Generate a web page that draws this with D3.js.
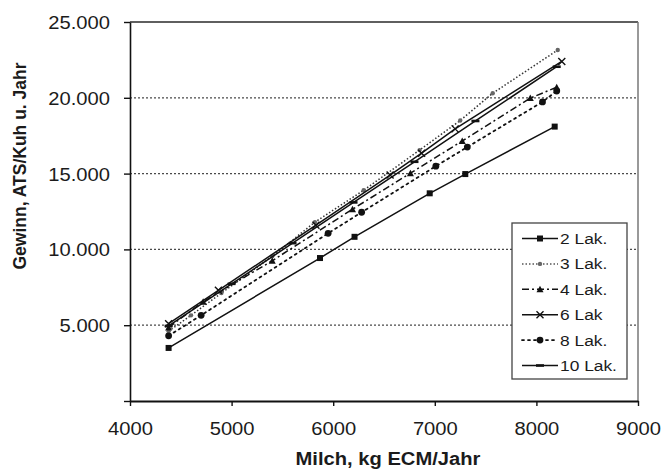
<!DOCTYPE html>
<html lang="de">
<head>
  <meta charset="UTF-8">
  <title>Gewinn je Kuh</title>
  <style>
    body { margin: 0; background: #fff; }
    svg text { font-family: 'Liberation Sans', Arial, sans-serif; fill: #1b1b1b; }
  </style>
</head>
<body>
  <svg id="svg" width="665" height="470"></svg>

  <script src="https://d3js.org/d3.v7.min.js"></script>
  <script>
    // values (kg ECM / year, ATS per cow and year)
    const milk2 = [4380, 5870, 6210, 6950, 7300, 8180]
    const gain2 = [3500, 9430, 10830, 13700, 14970, 18100]

    const milk3 = [4380, 4600, 4900, 5400, 5820, 6300, 6850, 7250, 7570, 8210]
    const gain3 = [4600, 5650, 7120, 9540, 11800, 13900, 16550, 18500, 20300, 23150]

    const milk4 = [4380, 4720, 5400, 6190, 6760, 7270, 7940, 8200]
    const gain4 = [4850, 6550, 9250, 12650, 15030, 17150, 19980, 20700]

    const milk6 = [4380, 4870, 5830, 6560, 6870, 7200, 8250]
    const gain6 = [5100, 7300, 11600, 14900, 16350, 17950, 22400]

    const milk8 = [4380, 4700, 5950, 6280, 7010, 7320, 8060, 8200]
    const gain8 = [4300, 5650, 11060, 12450, 15490, 16750, 19730, 20450]

    const milk10 = [4380, 5000, 5600, 6200, 6800, 7400, 8200]
    const gain10 = [4950, 7730, 10410, 13100, 15780, 18470, 22050]

    const seriesNames = ['2 Lak.', '3 Lak.', '4 Lak.', '6 Lak', '8 Lak.', '10 Lak.']
    const xTicks = [4000, 5000, 6000, 7000, 8000, 9000]
    const yTicks = [0, 5000, 10000, 15000, 20000, 25000]

    const series = [
      { name: seriesNames[0], x: milk2, y: gain2, dash: null, marker: 'square' },
      { name: seriesNames[1], x: milk3, y: gain3, dash: '1.5,2', marker: 'small' },
      { name: seriesNames[2], x: milk4, y: gain4, dash: '7,3,2,3', marker: 'triangle' },
      { name: seriesNames[3], x: milk6, y: gain6, dash: null, marker: 'cross' },
      { name: seriesNames[4], x: milk8, y: gain8, dash: '2,4', marker: 'dot' },
      { name: seriesNames[5], x: milk10, y: gain10, dash: null, marker: 'dash' },
    ]

    const margin = { top: 22, right: 27, bottom: 69, left: 130 }
    const width = 665 - margin.left - margin.right
    const height = 470 - margin.top - margin.bottom
    const stretchX = 1.12 // the scan is a bit wider than tall

    const de = d3.formatLocale({ decimal: ',', thousands: '.', grouping: [3], currency: ['', ' €'] })
    const fmt = de.format(',d')

    const xscale = d3.scaleLinear().domain([4000, 9000]).range([margin.left, margin.left + width])
    const yscale = d3.scaleLinear().domain([0, 25000]).range([margin.top + height, margin.top])

    const svg = d3.select('#svg')

    function stretch(sel, k) {
      sel.each(function () {
        const w = this.getComputedTextLength()
        d3.select(this).attr('textLength', w * k).attr('lengthAdjust', 'spacingAndGlyphs')
      })
    }

    // dotted grid lines
    svg.append('g')
      .selectAll('line')
      .data(yTicks.filter(d => d > 0 && d < 25000))
      .enter()
      .append('line')
      .attr('x1', margin.left)
      .attr('x2', margin.left + width)
      .attr('y1', d => yscale(d))
      .attr('y2', d => yscale(d))
      .attr('stroke', '#4a4a4a')
      .attr('stroke-width', 1.2)
      .attr('stroke-dasharray', '2,2')

    // frame top + right
    svg.append('line')
      .attr('x1', margin.left).attr('x2', margin.left + width)
      .attr('y1', yscale(25000)).attr('y2', yscale(25000))
      .attr('stroke', '#2a2a2a').attr('stroke-width', 1.6)
    svg.append('line')
      .attr('x1', xscale(9000)).attr('x2', xscale(9000))
      .attr('y1', yscale(25000)).attr('y2', yscale(0))
      .attr('stroke', '#777').attr('stroke-width', 1.5)

    // axes
    const leftAxis = d3.axisLeft(yscale)
      .tickValues(yTicks)
      .tickFormat(d => d === 0 ? '' : fmt(d))
      .tickSize(6)
      .tickSizeOuter(0)
      .tickPadding(14)
    const gy = svg.append('g')
      .attr('transform', `translate(${margin.left}, 0)`)
      .call(leftAxis)
    gy.select('.domain').attr('stroke', '#111').attr('stroke-width', 1.6)
    gy.selectAll('.tick line').attr('stroke', '#111').attr('stroke-width', 1.4)
    gy.selectAll('text').attr('font-size', 18).attr('dy', '0.36em')

    const bottomAxis = d3.axisBottom(xscale)
      .tickValues(xTicks)
      .tickFormat(d => d)
      .tickSize(5)
      .tickSizeOuter(0)
      .tickPadding(16)
    const gx = svg.append('g')
      .attr('transform', `translate(0, ${margin.top + height})`)
      .call(bottomAxis)
    gx.select('.domain').attr('stroke', '#111').attr('stroke-width', 2.2)
    gx.selectAll('.tick line').attr('stroke', '#111').attr('stroke-width', 1.4)
    gx.selectAll('text').attr('font-size', 18)

    svg.selectAll('.tick text').attr('fill', '#1b1b1b').call(stretch, stretchX)

    // axis titles
    svg.append('text')
      .attr('x', 388)
      .attr('y', 465)
      .attr('text-anchor', 'middle')
      .attr('font-size', 18)
      .attr('font-weight', 'bold')
      .text('Milch, kg ECM/Jahr')
      .call(stretch, stretchX)

    svg.append('text')
      .attr('transform', 'translate(26, 166) rotate(-90)')
      .attr('text-anchor', 'middle')
      .attr('font-size', 17.5)
      .attr('font-weight', 'bold')
      .text('Gewinn, ATS/Kuh u. Jahr')

    // markers
    function drawMarker(g, type, cx, cy) {
      if (type === 'square') {
        g.append('rect').attr('x', cx - 3).attr('y', cy - 3).attr('width', 6).attr('height', 6).attr('fill', '#111')
      } else if (type === 'small') {
        g.append('circle').attr('cx', cx).attr('cy', cy).attr('r', 2.2).attr('fill', '#666')
      } else if (type === 'triangle') {
        g.append('path').attr('d', `M${cx},${cy - 3.5}L${cx + 3.5},${cy + 3}L${cx - 3.5},${cy + 3}Z`).attr('fill', '#111')
      } else if (type === 'cross') {
        g.append('path').attr('d', `M${cx - 3.5},${cy - 3.5}L${cx + 3.5},${cy + 3.5}M${cx - 3.5},${cy + 3.5}L${cx + 3.5},${cy - 3.5}`)
          .attr('stroke', '#111').attr('stroke-width', 1.4)
      } else if (type === 'dot') {
        g.append('circle').attr('cx', cx).attr('cy', cy).attr('r', 3.4).attr('fill', '#111')
      } else if (type === 'dash') {
        g.append('rect').attr('x', cx - 4).attr('y', cy - 1.3).attr('width', 8).attr('height', 2.6).attr('fill', '#111')
      }
    }

    const line = d3.line().x(d => xscale(d[0])).y(d => yscale(d[1]))

    const lineGroup = svg.append('g')
    series.forEach(s => {
      const pts = s.x.map((v, i) => [v, s.y[i]])
      lineGroup.append('path')
        .attr('d', line(pts))
        .attr('fill', 'none')
        .attr('stroke', s.marker === 'small' ? '#333' : '#111')
        .attr('stroke-width', s.marker === 'dot' ? 1.8 : 1.5)
        .attr('stroke-linecap', s.marker === 'dot' ? 'round' : 'butt')
        .attr('stroke-dasharray', s.dash)
      const mg = lineGroup.append('g')
      pts.forEach(p => drawMarker(mg, s.marker, xscale(p[0]), yscale(p[1])))
    })

    // legend
    const legend = svg.append('g')
    legend.append('rect')
      .attr('x', 512).attr('y', 223)
      .attr('width', 115).attr('height', 156)
      .attr('fill', '#fff')
      .attr('stroke', '#444')
      .attr('stroke-width', 1.3)

    series.forEach((s, i) => {
      const ly = 238.5 + i * 25.4
      legend.append('line')
        .attr('x1', 522).attr('x2', 558)
        .attr('y1', ly).attr('y2', ly)
        .attr('stroke', s.marker === 'small' ? '#555' : '#111')
        .attr('stroke-width', s.marker === 'dot' ? 1.8 : 1.5)
        .attr('stroke-linecap', s.marker === 'dot' ? 'round' : 'butt')
        .attr('stroke-dasharray', s.dash)
      drawMarker(legend, s.marker, 540, ly)
      legend.append('text')
        .attr('x', 560)
        .attr('y', ly + 5.5)
        .attr('font-size', 15.5)
        .text(s.name)
        .call(stretch, stretchX)
    })
  </script>
</body>
</html>
